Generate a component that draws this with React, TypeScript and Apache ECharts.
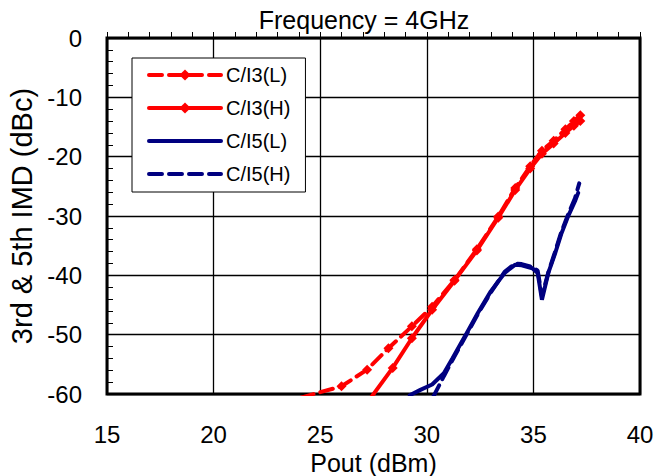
import React, { useEffect, useRef } from "react";
import * as echarts from "echarts";

const title = "Frequency = 4GHz";
const xName = "Pout (dBm)";
const yName = "3rd & 5th IMD (dBc)";
const seriesNames = ["C/I3(L)", "C/I3(H)", "C/I5(L)", "C/I5(H)"];

const ci3L: number[][] = [
  [24.1, -60.6], [26.0, -58.7], [27.2, -55.9], [28.2, -52.3], [29.3, -48.6],
  [30.25, -45.3], [31.3, -40.8], [32.35, -35.6], [33.35, -30.1], [34.15, -25.3],
  [34.85, -21.6], [35.4, -19.0], [35.95, -17.3], [36.5, -15.4], [36.9, -14.0], [37.2, -13.0],
];
const ci3H: number[][] = [
  [27.3, -61.0], [28.4, -55.6], [29.3, -50.6], [30.25, -45.8], [31.3, -40.9],
  [32.35, -35.8], [33.35, -30.3], [34.15, -25.6], [34.85, -22.0], [35.4, -19.5],
  [35.95, -17.8], [36.5, -16.0], [36.9, -14.8], [37.2, -14.0],
];
const ci5L: number[][] = [
  [29.2, -60.2], [29.7, -59.3], [30.25, -58.4], [30.8, -56.5], [31.2, -54.0],
  [31.8, -50.2], [32.4, -46.3], [33.0, -42.7], [33.65, -39.6], [34.15, -38.2],
  [34.45, -38.3], [34.95, -38.8], [35.2, -39.6], [35.4, -44.1], [35.7, -39.6],
  [36.0, -36.5], [36.3, -33.1], [36.6, -30.3], [36.95, -27.5], [37.1, -26.1],
];
const ci5H: number[][] = [
  [30.3, -60.5], [30.8, -57.0], [31.2, -54.3], [31.8, -50.4], [32.4, -46.5],
  [33.0, -42.9], [33.65, -39.4], [34.15, -38.0], [34.45, -38.1], [34.95, -38.6],
  [35.2, -39.2], [35.4, -43.5], [35.7, -39.5], [36.0, -36.2], [36.3, -32.8],
  [36.6, -30.0], [36.95, -27.0], [37.15, -24.5],
];

const FONT = "Liberation Sans";

export default function App() {
  const ref = useRef<HTMLDivElement>(null);
  useEffect(() => {
    if (!ref.current) return;
    const chart = echarts.init(ref.current, null, { renderer: "svg" });
    const red = "#ff0000";
    const navy = "#000080";
    const hidden = { color: "rgba(0,0,0,0)", borderColor: "rgba(0,0,0,0)", borderWidth: 0 };
    chart.setOption({
      animation: false,
      backgroundColor: "#ffffff",
      title: {
        text: title,
        left: 364,
        top: 7,
        padding: 0,
        textAlign: "center",
        textStyle: { fontFamily: FONT, fontSize: 25, fontWeight: "normal", color: "#000" },
      },
      legend: {
        orient: "vertical",
        left: 132,
        top: 58,
        padding: [7, 15, 8, 15],
        itemWidth: 72,
        itemHeight: 14,
        itemGap: 13,
        borderColor: "#000",
        borderWidth: 1,
        borderRadius: 0,
        backgroundColor: "#fff",
        lineStyle: { width: 4, cap: "round" },
        textStyle: { fontFamily: FONT, fontSize: 20, lineHeight: 20, color: "#000" },
        data: [
          { name: seriesNames[0] },
          { name: seriesNames[1] },
          { name: seriesNames[2], itemStyle: hidden },
          { name: seriesNames[3], itemStyle: hidden },
        ],
      },
      grid: {
        left: 107,
        right: 17,
        top: 38,
        bottom: 82,
        show: true,
        borderColor: "#000",
        borderWidth: 3,
        outerBoundsMode: "none",
        containLabel: false,
      },
      xAxis: {
        type: "value",
        min: 15,
        max: 40,
        interval: 5,
        name: xName,
        nameLocation: "middle",
        nameGap: 55,
        nameTextStyle: { fontFamily: FONT, fontSize: 25, color: "#000" },
        axisLine: { show: false },
        axisTick: { show: true, inside: true, length: 6, lineStyle: { color: "#000", width: 1 } },
        minorTick: { show: true, splitNumber: 5, length: 6, lineStyle: { color: "#000", width: 1 } },
        splitLine: { show: true, lineStyle: { color: "#000", width: 1.3 } },
        axisLabel: { fontFamily: FONT, fontSize: 24, color: "#000", margin: 28 },
      },
      yAxis: {
        type: "value",
        min: -60,
        max: 0,
        interval: 10,
        name: yName,
        nameLocation: "middle",
        nameGap: 69,
        nameTextStyle: { fontFamily: FONT, fontSize: 29, color: "#000" },
        axisLine: { show: false },
        axisTick: { show: true, inside: true, length: 6, lineStyle: { color: "#000", width: 1 } },
        minorTick: { show: true, splitNumber: 5, length: 6, lineStyle: { color: "#000", width: 1 } },
        splitLine: { show: true, lineStyle: { color: "#000", width: 1.3 } },
        axisLabel: { fontFamily: FONT, fontSize: 24, color: "#000", margin: 25 },
      },
      series: [
        {
          name: seriesNames[0],
          type: "line",
          data: ci3L,
          symbol: "diamond",
          symbolSize: 10,
          itemStyle: { color: red },
          lineStyle: { color: red, width: 4, type: [13, 7], cap: "round" },
          z: 3,
        },
        {
          name: seriesNames[1],
          type: "line",
          data: ci3H,
          symbol: "diamond",
          symbolSize: 10,
          itemStyle: { color: red },
          lineStyle: { color: red, width: 4, type: "solid", cap: "round" },
          z: 3,
        },
        {
          name: seriesNames[2],
          type: "line",
          data: ci5L,
          symbol: "none",
          itemStyle: { color: navy },
          lineStyle: { color: navy, width: 4, type: "solid", cap: "round" },
          z: 2,
        },
        {
          name: seriesNames[3],
          type: "line",
          data: ci5H,
          symbol: "none",
          itemStyle: { color: navy },
          lineStyle: { color: navy, width: 4, type: [13, 7], cap: "round" },
          z: 2,
        },
      ],
    });
    return () => chart.dispose();
  }, []);
  return <div ref={ref} style={{ width: 657, height: 476, position: "absolute", left: 0, top: 0 }} />;
}
